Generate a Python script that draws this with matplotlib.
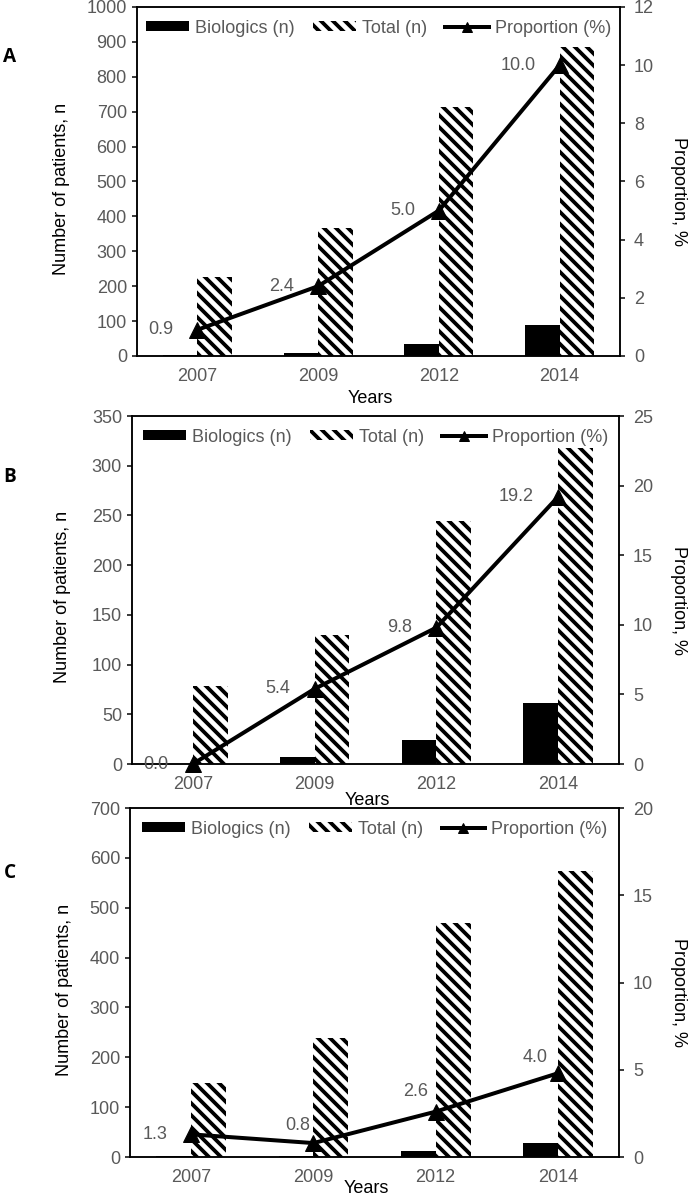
import numpy as np
from matplotlib import pyplot as plt
from matplotlib.lines import Line2D
from matplotlib.patches import Patch

plt.rcParams['font.family'] = ['Liberation Sans', 'DejaVu Sans']
plt.rcParams['hatch.linewidth'] = 3.8

years = ['2007', '2009', '2012', '2014']

# panel A
biologics_a = [2, 9, 35, 89]
total_a = [226, 367, 713, 885]
proportion_a = [0.9, 2.4, 5.0, 10.0]
labels_a = ['0.9', '2.4', '5.0', '10.0']

# panel B
biologics_b = [0, 7, 24, 61]
total_b = [78, 130, 244, 318]
proportion_b = [0.0, 5.4, 9.8, 19.2]
labels_b = ['0.0', '5.4', '9.8', '19.2']

# panel C (last point is drawn higher than its printed label in the original)
biologics_c = [2, 2, 12, 29]
total_c = [149, 239, 469, 573]
proportion_c = [1.3, 0.8, 2.6, 4.8]
labels_c = ['1.3', '0.8', '2.6', '4.0']

gray = '#595959'
fs = 18

panels = [
    dict(letter='A', rect=[0.1971, 0.7031, 0.6950, 0.2911], ymax=1000, ystep=100, y2max=12, y2step=2,
         bio=biologics_a, tot=total_a, prop=proportion_a, labels=labels_a,
         offs=[(-24, 0)] * 4, letter_y=57, xlab_y=-0.097, ylab_x=-0.139),
    dict(letter='B', rect=[0.1899, 0.3628, 0.7007, 0.2902], ymax=350, ystep=50, y2max=25, y2step=5,
         bio=biologics_b, tot=total_b, prop=proportion_b, labels=labels_b,
         offs=[(-24, 0)] * 4, letter_y=477, xlab_y=-0.08, ylab_x=-0.125),
    dict(letter='C', rect=[0.1871, 0.0350, 0.7036, 0.2911], ymax=700, ystep=100, y2max=20, y2step=5,
         bio=biologics_c, tot=total_c, prop=proportion_c, labels=labels_c,
         offs=[(-24, 0), (-3, 18), (-8, 20), (-10, 16)], letter_y=873, xlab_y=-0.066, ylab_x=-0.117),
]

fig = plt.figure(figsize=(695 / 72, 1199 / 72), dpi=72)
x = np.arange(len(years))
w = 0.285

for p in panels:
    ax = fig.add_axes(p['rect'])
    ax.bar(x - w, p['bio'], w, align='edge', color='black', linewidth=0)
    ax.bar(x, p['tot'], w, align='edge', facecolor='white', edgecolor='black',
           hatch='\\\\', linewidth=0)
    ax.set_xlim(-0.5, len(years) - 0.5)
    ax.set_ylim(0, p['ymax'])
    ax.set_yticks(np.arange(0, p['ymax'] + 1, p['ystep']))
    ax.set_xticks(x)
    ax.set_xticklabels(years)
    ax.tick_params(axis='x', length=0, pad=12, labelsize=fs, labelcolor=gray)
    ax.tick_params(axis='y', length=5, width=1.5, pad=5, labelsize=fs, labelcolor=gray)
    ax.set_ylabel('Number of patients, n', fontsize=fs)
    ax.yaxis.set_label_coords(p['ylab_x'], 0.48)
    ax.set_xlabel('Years', fontsize=fs)
    ax.xaxis.set_label_coords(0.483, p['xlab_y'])
    for s in ax.spines.values():
        s.set_linewidth(1.5)

    ax2 = ax.twinx()
    ax2.plot(x, p['prop'], color='black', lw=4, marker='^', ms=16, clip_on=False)
    ax2.set_ylim(0, p['y2max'])
    ax2.set_yticks(np.arange(0, p['y2max'] + 1, p['y2step']))
    ax2.tick_params(axis='y', length=5, width=1.5, pad=9, labelsize=fs, labelcolor=gray)
    ax2.set_ylabel('Proportion, %', fontsize=fs, rotation=270)
    ax2.yaxis.set_label_coords(1.139, 0.47)
    for s in ax2.spines.values():
        s.set_linewidth(1.5)

    for xi, v, t, o in zip(x, p['prop'], p['labels'], p['offs']):
        ax2.annotate(t, (xi, v), xytext=o, textcoords='offset points',
                     ha='right', va='center', fontsize=fs, color=gray)

    handles = [Patch(facecolor='black'),
               Patch(facecolor='white', edgecolor='black', hatch='\\\\', linewidth=0),
               Line2D([], [], color='black', lw=4, marker='^', ms=10)]
    ax2.legend(handles, ['Biologics (n)', 'Total (n)', 'Proportion (%)'], loc='upper center',
               bbox_to_anchor=(0.5, 1.0), ncol=3, frameon=False, fontsize=fs,
               labelcolor=gray, handlelength=2.4, handleheight=0.5, handletextpad=0.35,
               columnspacing=1.0, borderaxespad=0.3)

    fig.text(10 / 695, 1 - p['letter_y'] / 1199, p['letter'], family='Open Sans',
             fontweight='bold', fontsize=19, ha='center', va='center')

fig.savefig('out.png', dpi=72)
